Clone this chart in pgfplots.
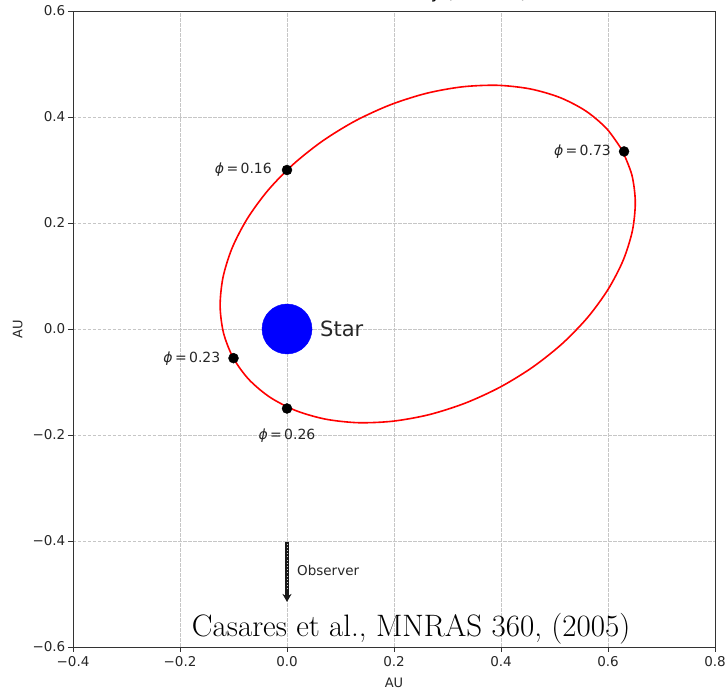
\documentclass[border=0pt]{standalone}
\usepackage{fontspec}
\usepackage{pgfplots}
\pgfplotsset{compat=1.18}
\usetikzlibrary{arrows.meta}
\newfontfamily\dv{DejaVu Sans}
\newcommand\phil[1]{{\itshape ϕ}\,=\,#1}
\begin{document}
\begin{tikzpicture}
\begin{axis}[
  at={(0,0)}, anchor=south west,
  scale only axis, width=642pt, height=636pt,
  xmin=-0.4, xmax=0.8, ymin=-0.6, ymax=0.6,
  xtick={-0.4,-0.2,0,0.2,0.4,0.6,0.8},
  xticklabels={−0.4,−0.2,0.0,0.2,0.4,0.6,0.8},
  ytick={-0.6,-0.4,-0.2,0,0.2,0.4,0.6},
  yticklabels={−0.6,−0.4,−0.2,0.0,0.2,0.4,0.6},
  xtick pos=bottom, ytick pos=left, tick align=outside,
  major tick length=5pt,
  tick style={black!80, line width=0.8pt},
  axis line style={black!80, line width=0.8pt},
  ticklabel style={font=\dv\fontsize{13.5}{16}\selectfont, text=black!85},
  xticklabel style={inner sep=4pt},
  yticklabel style={inner sep=2.5pt},
  grid=major,
  major grid style={gray!45, line width=0.6pt, dash pattern=on 3.5pt off 1.5pt},
  xlabel={AU}, ylabel={AU},
  xlabel style={font=\dv\fontsize{13}{15}\selectfont, text=black!85, yshift=-4pt},
  ylabel style={font=\dv\fontsize{13}{15}\selectfont, text=black!85, yshift=4pt},
  title={LSI 61 303 Geometry (Casares)},
  title style={font=\dv\fontsize{17}{20}\selectfont, at={(0.5,1)}, anchor=base, yshift=6pt},
]
% star
\addplot[only marks, mark=*, mark size=25pt, color=blue, mark options={draw=blue, fill=blue}] coordinates {(0,0)};
\draw[white!55!blue, line width=0.6pt, dash pattern=on 3.5pt off 1.5pt] (axis cs:-0.047,0) -- (axis cs:0.047,0);
\draw[white!55!blue, line width=0.6pt, dash pattern=on 3.5pt off 1.5pt] (axis cs:0,-0.047) -- (axis cs:0,0.047);
% orbit
\addplot[red, line width=1.6pt, smooth, mark=none] coordinates {
(0.6266,0.3373) (0.5976,0.3779) (0.5584,0.4114) (0.5102,0.4367) (0.4545,0.4530)
(0.3931,0.4598) (0.3276,0.4569) (0.2603,0.4446) (0.1929,0.4229) (0.1277,0.3927)
(0.0667,0.3549) (0.0115,0.3106) (-0.0360,0.2611) (-0.0743,0.2080) (-0.1025,0.1530)
(-0.1196,0.0975) (-0.1250,0.0434) (-0.1186,-0.0077) (-0.1006,-0.0543) (-0.0716,-0.0949)
(-0.0324,-0.1284) (0.0158,-0.1537) (0.0715,-0.1700) (0.1329,-0.1768) (0.1984,-0.1739)
(0.2657,-0.1616) (0.3331,-0.1399) (0.3983,-0.1097) (0.4593,-0.0719) (0.5145,-0.0276)
(0.5620,0.0219) (0.6003,0.0750) (0.6285,0.1300) (0.6456,0.1855) (0.6510,0.2396)
(0.6446,0.2907) (0.6266,0.3373)
};
% phase points
\addplot[only marks, mark=*, mark size=5pt, color=black] coordinates {
(0,0.30) (0.63,0.335) (-0.10,-0.055) (0,-0.15)};
% observer arrow
\addplot[black!90, line width=3.5pt, -{Stealth[length=8pt,width=9pt]}] coordinates {(0,-0.402) (0,-0.515)};
\addplot[white!80!black, line width=0.8pt, dash pattern=on 1pt off 2.2pt] coordinates {(0,-0.405) (0,-0.493)};
% labels
\node[anchor=east, inner sep=0, font=\dv\fontsize{14}{16}\selectfont, text=black!85] at (axis cs:0,0.30) [xshift=-15pt] {\phil{0.16}};
\node[anchor=east, inner sep=0, font=\dv\fontsize{14}{16}\selectfont, text=black!85] at (axis cs:0.63,0.335) [xshift=-13pt] {\phil{0.73}};
\node[anchor=east, inner sep=0, font=\dv\fontsize{14}{16}\selectfont, text=black!85] at (axis cs:-0.10,-0.055) [xshift=-13pt] {\phil{0.23}};
\node[anchor=center, inner sep=0, font=\dv\fontsize{14}{16}\selectfont, text=black!85] at (axis cs:0,-0.15) [yshift=-27pt] {\phil{0.26}};
\node[anchor=west, inner sep=0, font=\dv\fontsize{21}{24}\selectfont, text=black!85] at (axis cs:0,0) [xshift=33pt] {Star};
\node[anchor=west, inner sep=0, font=\dv\fontsize{13.5}{16}\selectfont, text=black!85] at (axis cs:0,-0.455) [xshift=10pt] {Observer};
\node[anchor=base west, inner sep=0, font=\fontsize{31}{36}\selectfont] at (axis cs:-0.178,-0.5806) {Casares et al., MNRAS 360, (2005)};
\end{axis}
\pgfresetboundingbox
\path[use as bounding box] (-73pt,-46pt) rectangle (655pt,647pt);
\end{tikzpicture}
\end{document}
